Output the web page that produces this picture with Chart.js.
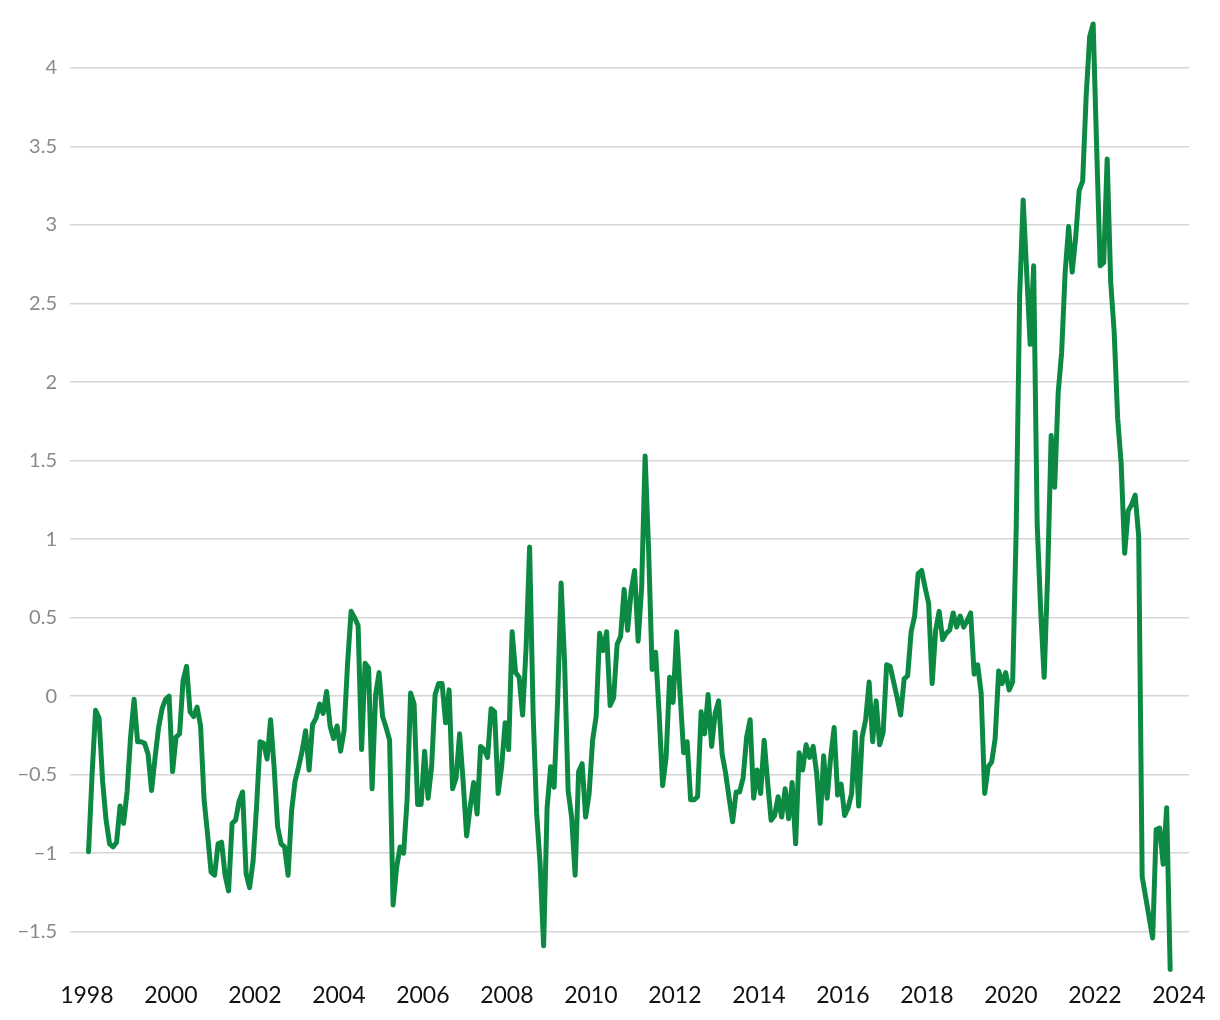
<!DOCTYPE html>
<html>
<head>
<meta charset="utf-8">
<title>Monthly series 1998-2023</title>
<script src="https://cdn.jsdelivr.net/npm/chart.js@4/dist/chart.umd.min.js"></script>
<style>
  html, body { margin: 0; padding: 0; background: #fff; }
  #wrap { position: relative; width: 1220px; height: 1020px; }
</style>
</head>
<body>
<div id="wrap"><canvas id="chart"></canvas></div>
<script>
'use strict';

// ===== Data (monthly, starting Jan 1998) =====
const START_YEAR = 1998;
const VALUES = [
  // 1998
  -0.99, -0.50, -0.09, -0.14, -0.54, -0.79, -0.94, -0.96, -0.93, -0.70, -0.81, -0.61,
  // 1999
  -0.26, -0.02, -0.29, -0.29, -0.30, -0.37, -0.60, -0.39, -0.20, -0.08, -0.02, 0.00,
  // 2000
  -0.48, -0.26, -0.24, 0.10, 0.19, -0.10, -0.13, -0.07, -0.19, -0.66, -0.88, -1.12,
  // 2001
  -1.14, -0.94, -0.93, -1.14, -1.24, -0.81, -0.79, -0.67, -0.61, -1.13, -1.22, -1.05,
  // 2002
  -0.70, -0.29, -0.30, -0.40, -0.15, -0.45, -0.83, -0.94, -0.96, -1.14, -0.73, -0.54,
  // 2003
  -0.45, -0.35, -0.22, -0.47, -0.18, -0.14, -0.05, -0.11, 0.03, -0.19, -0.27, -0.19,
  // 2004
  -0.35, -0.22, 0.21, 0.54, 0.50, 0.45, -0.34, 0.21, 0.18, -0.59, 0.01, 0.15,
  // 2005
  -0.13, -0.20, -0.28, -1.33, -1.09, -0.96, -1.00, -0.66, 0.02, -0.05, -0.69, -0.69,
  // 2006
  -0.35, -0.65, -0.45, 0.01, 0.08, 0.08, -0.17, 0.04, -0.59, -0.52, -0.24, -0.54,
  // 2007
  -0.89, -0.71, -0.55, -0.75, -0.32, -0.34, -0.39, -0.08, -0.10, -0.62, -0.45, -0.17,
  // 2008
  -0.34, 0.41, 0.15, 0.12, -0.12, 0.31, 0.95, -0.11, -0.74, -1.07, -1.59, -0.71,
  // 2009
  -0.45, -0.58, -0.03, 0.72, 0.21, -0.60, -0.77, -1.14, -0.48, -0.43, -0.77, -0.62,
  // 2010
  -0.28, -0.13, 0.40, 0.29, 0.41, -0.06, -0.01, 0.33, 0.38, 0.68, 0.42, 0.67,
  // 2011
  0.80, 0.35, 0.69, 1.53, 0.93, 0.17, 0.28, -0.11, -0.57, -0.39, 0.12, -0.04,
  // 2012
  0.41, 0.01, -0.36, -0.29, -0.66, -0.66, -0.64, -0.10, -0.24, 0.01, -0.32, -0.11,
  // 2013
  -0.03, -0.37, -0.49, -0.65, -0.80, -0.61, -0.61, -0.52, -0.26, -0.15, -0.65, -0.47,
  // 2014
  -0.62, -0.28, -0.55, -0.79, -0.76, -0.64, -0.77, -0.59, -0.78, -0.55, -0.94, -0.36,
  // 2015
  -0.47, -0.31, -0.39, -0.32, -0.49, -0.81, -0.38, -0.65, -0.39, -0.20, -0.63, -0.56,
  // 2016
  -0.76, -0.71, -0.62, -0.23, -0.70, -0.26, -0.15, 0.09, -0.29, -0.03, -0.31, -0.23,
  // 2017
  0.20, 0.19, 0.09, -0.01, -0.12, 0.11, 0.13, 0.41, 0.51, 0.78, 0.80, 0.69,
  // 2018
  0.59, 0.08, 0.42, 0.54, 0.36, 0.40, 0.42, 0.53, 0.44, 0.51, 0.44, 0.48,
  // 2019
  0.53, 0.14, 0.20, 0.02, -0.62, -0.45, -0.42, -0.27, 0.16, 0.08, 0.15, 0.04,
  // 2020
  0.09, 1.05, 2.55, 3.16, 2.70, 2.24, 2.74, 1.10, 0.55, 0.12, 0.77, 1.66,
  // 2021
  1.33, 1.93, 2.19, 2.70, 2.99, 2.70, 2.92, 3.22, 3.28, 3.82, 4.20, 4.28,
  // 2022
  3.49, 2.74, 2.76, 3.42, 2.64, 2.32, 1.77, 1.48, 0.91, 1.18, 1.22, 1.28,
  // 2023 (to Oct)
  1.02, -1.15, -1.28, -1.41, -1.54, -0.85, -0.84, -1.07, -0.71, -1.74
];

const X_TICKS = [1998, 2000, 2002, 2004, 2006, 2008, 2010, 2012, 2014, 2016, 2018, 2020, 2022, 2024];
const Y_TICKS = [-1.5, -1, -0.5, 0, 0.5, 1, 1.5, 2, 2.5, 3, 3.5, 4];

// axis range (years / units)
const X_MIN = 1997.79, X_MAX = 2024.24;
const Y_MIN = -1.75, Y_MAX = 4.35;

// ===== Styles =====
const LINE_COLOR = '#0c8a43';
const GRID_COLOR = '#d5d5d5';
const FONT = 'Lato, "Open Sans", sans-serif';

// month i -> decimal year (mid-month)
const points = VALUES.map((v, i) => ({ x: START_YEAR + (i + 0.5) / 12, y: v }));

function fmtY(v){
  if(v < 0) return '\u2212' + String(Math.abs(v));
  return String(v);
}

new Chart(document.getElementById('chart'), {
  type: 'line',
  data: {
    datasets: [{
      data: points,
      borderColor: LINE_COLOR,
      borderWidth: 5,
      pointRadius: 0,
      tension: 0,
      fill: false,
      clip: false,
      borderJoinStyle: 'round',
      borderCapStyle: 'round'
    }]
  },
  options: {
    responsive: true,
    maintainAspectRatio: false,
    animation: false,
    layout: { padding: { top: 13, right: 31, bottom: 0, left: 0 } },
    plugins: {
      legend: { display: false },
      tooltip: { enabled: false }
    },
    scales: {
      x: {
        type: 'linear',
        min: X_MIN,
        max: X_MAX,
        afterBuildTicks: (s) => { s.ticks = X_TICKS.map(v => ({ value: v })); },
        afterFit: (s) => { s.height = 49; },
        grid: { display: false, drawTicks: false },
        border: { display: false },
        ticks: {
          color: '#111',
          padding: 11,
          maxRotation: 0,
          autoSkip: false,
          font: { family: FONT, size: 23 },
          callback: (v) => String(v)
        }
      },
      y: {
        min: Y_MIN,
        max: Y_MAX,
        afterBuildTicks: (s) => { s.ticks = Y_TICKS.map(v => ({ value: v })); },
        // fixed axis width; drop the label half-height padding so the plot keeps its top
        afterFit: (s) => { s.width = 78; s.paddingTop = 0; s.paddingBottom = 0; },
        grid: { color: GRID_COLOR, lineWidth: 1.5, drawTicks: true, tickLength: 8 },
        border: { display: false },
        ticks: {
          color: '#8a8a8a',
          padding: 13,
          font: { family: FONT, size: 20 },
          callback: (v) => fmtY(v)
        }
      }
    }
  }
});
</script>
</body>
</html>
